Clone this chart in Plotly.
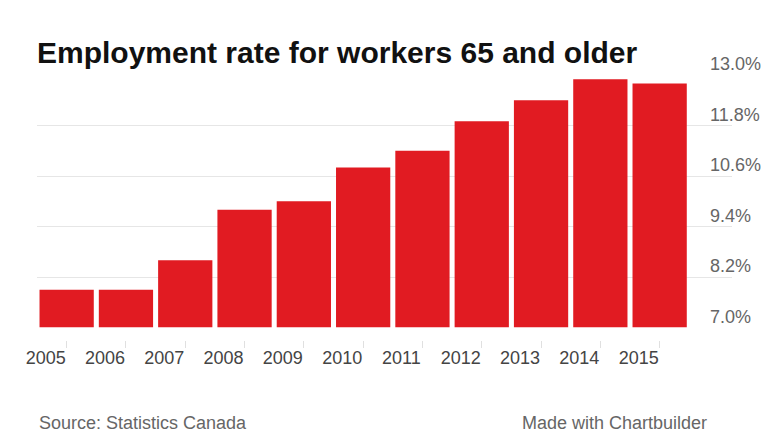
import plotly.graph_objects as go

years = ["2005", "2006", "2007", "2008", "2009", "2010", "2011", "2012", "2013", "2014", "2015"]
rates = [7.9, 7.9, 8.6, 9.8, 10.0, 10.8, 11.2, 11.9, 12.4, 12.9, 12.8]
y_ticks = [7.0, 8.2, 9.4, 10.6, 11.8, 13.0]
y_tick_labels = ["7.0%", "8.2%", "9.4%", "10.6%", "11.8%", "13.0%"]

title_text = "Employment rate for workers 65 and older"
source_text = "Source: Statistics Canada"
credit_text = "Made with Chartbuilder"

FONT = "Liberation Sans, Arial, Helvetica, sans-serif"
W, H = 780, 439
ML, MR, MT, MB = 37, 48, 75, 99
plot_h = H - MT - MB
plot_w = W - ML - MR
y_dom0 = 12.5 / plot_h
foot_y = -(422.5 - (H - MB)) / plot_h
X_RANGE = [-0.5, 11.22]

xs = list(range(len(years)))

fig = go.Figure()
fig.add_trace(go.Bar(
    x=xs, y=[r - 7.0 for r in rates], base=7.0,
    marker=dict(color="#e11b22", line=dict(width=0)),
    hoverinfo="skip",
))
# invisible companion trace so the label-only axes are drawn
fig.add_trace(go.Scatter(
    x=xs, y=rates, xaxis="x2", yaxis="y2", mode="markers",
    marker=dict(opacity=0, size=1), hoverinfo="skip",
))

fig.update_layout(
    width=W, height=H,
    margin=dict(l=ML, r=MR, t=MT, b=MB, pad=0),
    paper_bgcolor="white", plot_bgcolor="white",
    bargap=0.085,
    showlegend=False,
    font=dict(family=FONT),
    title=dict(text="<b>" + title_text + "</b>", x=ML / W, xanchor="left", xref="container",
               y=1 - 52 / H, yanchor="middle", yref="container",
               font=dict(size=30, color="#111111", family=FONT)),
    xaxis=dict(
        range=X_RANGE, tickmode="array", tickvals=xs, showticklabels=False,
        showgrid=False, zeroline=False, showline=False,
        ticks="outside", ticklen=7, tickcolor="#e0e0e0", tickwidth=1,
        anchor="free", position=0,
        fixedrange=True,
    ),
    xaxis2=dict(
        overlaying="x", range=X_RANGE, tickmode="array", tickvals=xs, ticktext=years,
        showgrid=False, zeroline=False, showline=False, ticks="",
        ticklabelshift=-21, ticklabelstandoff=5,
        tickfont=dict(size=18, color="#444444", family=FONT),
        anchor="free", position=0, side="bottom",
        fixedrange=True,
    ),
    yaxis=dict(
        domain=[y_dom0, 1], range=[7.0, 13.0],
        tickmode="array", tickvals=y_ticks, showticklabels=False,
        showgrid=True, gridcolor="#e6e6e6", gridwidth=1,
        zeroline=False, showline=False, ticks="",
        fixedrange=True,
    ),
    yaxis2=dict(
        overlaying="y", side="right", anchor="free", position=(709 - ML) / plot_w,
        domain=[y_dom0, 1], range=[7.0, 13.0],
        tickmode="array", tickvals=y_ticks, ticktext=y_tick_labels,
        showgrid=False, zeroline=False, showline=False, ticks="",
        ticklabelshift=-11,
        tickfont=dict(size=18, color="#666666", family=FONT),
        fixedrange=True,
    ),
    annotations=[
        dict(text=source_text, xref="paper", yref="paper", x=0, y=foot_y,
             xanchor="left", yanchor="middle", showarrow=False,
             font=dict(size=18, color="#666666", family=FONT)),
        dict(text=credit_text, xref="paper", yref="paper", x=(709 - ML) / plot_w,
             y=foot_y,
             xanchor="right", yanchor="middle", showarrow=False,
             font=dict(size=18, color="#666666", family=FONT)),
    ],
)

fig.write_html("out.html", config={"displayModeBar": False},
               post_script="document.body.style.margin='0';document.body.style.overflow='hidden';")
